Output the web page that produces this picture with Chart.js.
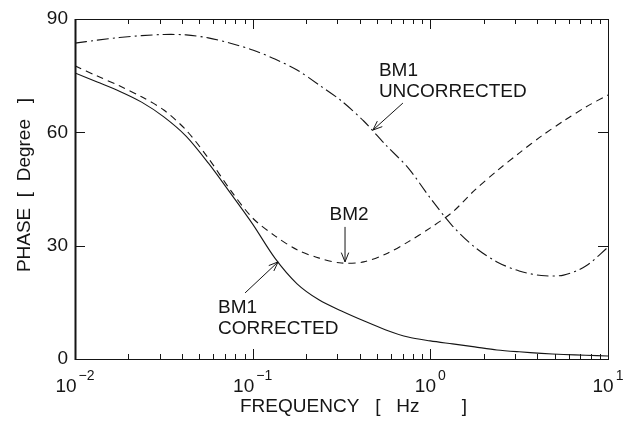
<!DOCTYPE html>
<html><head><meta charset="utf-8">
<script src="https://cdn.jsdelivr.net/npm/chart.js@4.4.1/dist/chart.umd.min.js"></script>
<style>html,body{margin:0;padding:0;background:#fff}canvas{display:block}</style>
</head><body>
<canvas id="c" width="628" height="427"></canvas>
<script>
// ---- data (8 samples per decade) ----
const frequency = [0.01, 0.01334, 0.01778, 0.02371, 0.03162, 0.04217, 0.05623, 0.07499,
                   0.1, 0.1334, 0.1778, 0.2371, 0.3162, 0.4217, 0.5623, 0.7499,
                   1, 1.334, 1.778, 2.371, 3.162, 4.217, 5.623, 7.499, 10];
const bm1Corrected = [75.7, 73.3, 70.9, 68.0, 64.1, 59.0, 51.9, 43.9,
                      35.7, 26.7, 19.9, 15.6, 12.7, 10.1, 7.7, 5.8,
                      4.8, 4.0, 3.2, 2.4, 1.9, 1.5, 1.2, 1.0, 0.8];
const bm2 = [77.6, 74.9, 72.3, 69.4, 65.9, 60.6, 53.2, 44.7,
             37.3, 32.6, 28.9, 26.7, 25.4, 25.7, 27.8, 31.0,
             34.7, 38.9, 44.7, 49.8, 54.5, 59.0, 63.0, 66.7, 69.9];
const bm1Uncorrected = [83.6, 84.4, 85.1, 85.6, 85.9, 85.8, 85.0, 83.6,
                        81.8, 79.4, 76.5, 72.5, 68.3, 63.0, 56.6, 50.6,
                        42.6, 35.2, 29.6, 25.7, 23.3, 22.1, 22.2, 24.6, 29.6];

const xMajorTicks = [0.01, 0.1, 1, 10];
const xTickExponents = ['\u22122', '\u22121', '0', '1'];
const yTicks = [0, 30, 60, 90];
const xTitle = 'FREQUENCY   [   Hz        ]';
const yTitle = 'PHASE  [  Degree   ]';

// annotations: arrow tip in data units, texts
const annotations = [
  { tip: [0.475, 60.6], lines: ['BM1', 'UNCORRECTED'] },
  { tip: [0.331, 25.7], lines: ['BM2'] },
  { tip: [0.139, 25.7], lines: ['BM1', 'CORRECTED'] }
];
// layout offsets (pixels) for each annotation
const annLayout = [
  { tail: [30, -27], text: [6, -54], align: 'left' },
  { tail: [0, -35], text: [4, -42], align: 'center' },
  { tail: [-33, 31], text: [-60, 51], align: 'left' }
];

const FONT = "'Liberation Sans',Arial,sans-serif";
const INK = '#151515';

function pts(vals) { return frequency.map((f, i) => ({ x: f, y: vals[i] })); }

function line(ctx, x1, y1, x2, y2) { ctx.beginPath(); ctx.moveTo(x1, y1); ctx.lineTo(x2, y2); ctx.stroke(); }

function arrow(ctx, tx, ty, hx, hy) {
  line(ctx, tx, ty, hx, hy);
  const ang = Math.atan2(hy - ty, hx - tx);
  const L = 10, w = 0.38;
  line(ctx, hx, hy, hx - L * Math.cos(ang - w), hy - L * Math.sin(ang - w));
  line(ctx, hx, hy, hx - L * Math.cos(ang + w), hy - L * Math.sin(ang + w));
}

const frameAndText = {
  id: 'frameAndText',
  beforeDraw(chart) {
    const ctx = chart.ctx;
    ctx.save(); ctx.fillStyle = '#fff'; ctx.fillRect(0, 0, chart.width, chart.height); ctx.restore();
  },
  afterDatasetsDraw(chart) {
    const { ctx, chartArea: a, scales: { x, y } } = chart;
    ctx.save();
    ctx.strokeStyle = INK; ctx.fillStyle = INK; ctx.lineWidth = 1;
    // frame
    ctx.strokeRect(Math.round(a.left) + 0.5, Math.round(a.top) + 0.5, Math.round(a.right - a.left), Math.round(a.bottom - a.top));
    ctx.lineWidth = 2;
    line(ctx, Math.round(a.left) + 0.5, a.top, Math.round(a.left) + 0.5, a.bottom + 1);
    ctx.lineWidth = 1;
    // x ticks (inward, top and bottom)
    for (let i = 0; i < xMajorTicks.length; i++) {
      const v = xMajorTicks[i];
      const px = Math.round(x.getPixelForValue(v)) + 0.5;
      line(ctx, px, a.bottom, px, a.bottom - 10);
      line(ctx, px, a.top, px, a.top + 10);
      if (i < xMajorTicks.length - 1) {
        for (let k = 2; k <= 9; k++) {
          const mx = Math.round(x.getPixelForValue(v * k)) + 0.5;
          line(ctx, mx, a.bottom, mx, a.bottom - 5);
          line(ctx, mx, a.top, mx, a.top + 5);
        }
      }
    }
    // y ticks (inward, left and right)
    yTicks.forEach(v => {
      const py = Math.round(y.getPixelForValue(v)) + 0.5;
      line(ctx, a.left, py, a.left + 10, py);
      line(ctx, a.right, py, a.right - 10, py);
    });
    // y tick labels
    ctx.font = '19px ' + FONT;
    ctx.textAlign = 'right'; ctx.textBaseline = 'middle';
    yTicks.forEach(v => ctx.fillText(String(v), a.left - 7, y.getPixelForValue(v)));
    // x tick labels with superscripts
    ctx.textBaseline = 'alphabetic'; ctx.textAlign = 'left';
    xMajorTicks.forEach((v, i) => {
      ctx.font = '19px ' + FONT;
      const w1 = ctx.measureText('10').width;
      ctx.font = '14px ' + FONT;
      const w2 = ctx.measureText(xTickExponents[i]).width;
      const cx = x.getPixelForValue(v);
      const x0 = cx - (w1 + w2) / 2 - 1;
      ctx.font = '19px ' + FONT;
      ctx.fillText('10', x0, a.bottom + 33);
      ctx.font = '14px ' + FONT;
      ctx.fillText(xTickExponents[i], x0 + w1 + 2, a.bottom + 21);
    });
    // axis titles
    ctx.font = '19px ' + FONT;
    ctx.textAlign = 'center';
    ctx.fillText(xTitle, (a.left + a.right) / 2 + 12, a.bottom + 53);
    ctx.save();
    ctx.translate(25, (a.top + a.bottom) / 2 - 4);
    ctx.rotate(-Math.PI / 2);
    ctx.textBaseline = 'middle';
    ctx.fillText(yTitle, 0, 0);
    ctx.restore();
    // annotations
    annotations.forEach((an, i) => {
      const lay = annLayout[i];
      const hx = x.getPixelForValue(an.tip[0]), hy = y.getPixelForValue(an.tip[1]);
      arrow(ctx, hx + lay.tail[0], hy + lay.tail[1], hx, hy);
      ctx.font = '19px ' + FONT;
      ctx.textAlign = lay.align; ctx.textBaseline = 'alphabetic';
      an.lines.forEach((t, j) => ctx.fillText(t, hx + lay.text[0], hy + lay.text[1] + j * 21));
    });
    ctx.restore();
  }
};

new Chart(document.getElementById('c'), {
  type: 'line',
  data: {
    datasets: [
      { label: 'BM1 CORRECTED', data: pts(bm1Corrected), borderColor: INK, borderWidth: 1.1, pointRadius: 0, fill: false, tension: 0.3 },
      { label: 'BM2', data: pts(bm2), borderColor: INK, borderWidth: 1.1, borderDash: [7, 5], pointRadius: 0, fill: false, tension: 0.3 },
      { label: 'BM1 UNCORRECTED', data: pts(bm1Uncorrected), borderColor: INK, borderWidth: 1.1, borderDash: [12, 4, 2, 4], pointRadius: 0, fill: false, tension: 0.3 }
    ]
  },
  options: {
    responsive: false,
    animation: false,
    devicePixelRatio: 1,
    layout: { padding: { left: 75, top: 19, right: 20, bottom: 68 } },
    scales: {
      x: { type: 'logarithmic', display: false, min: 0.01, max: 10 },
      y: { type: 'linear', display: false, min: 0, max: 90 }
    },
    plugins: { legend: { display: false }, tooltip: { enabled: false } }
  },
  plugins: [frameAndText]
});
</script>
</body></html>
